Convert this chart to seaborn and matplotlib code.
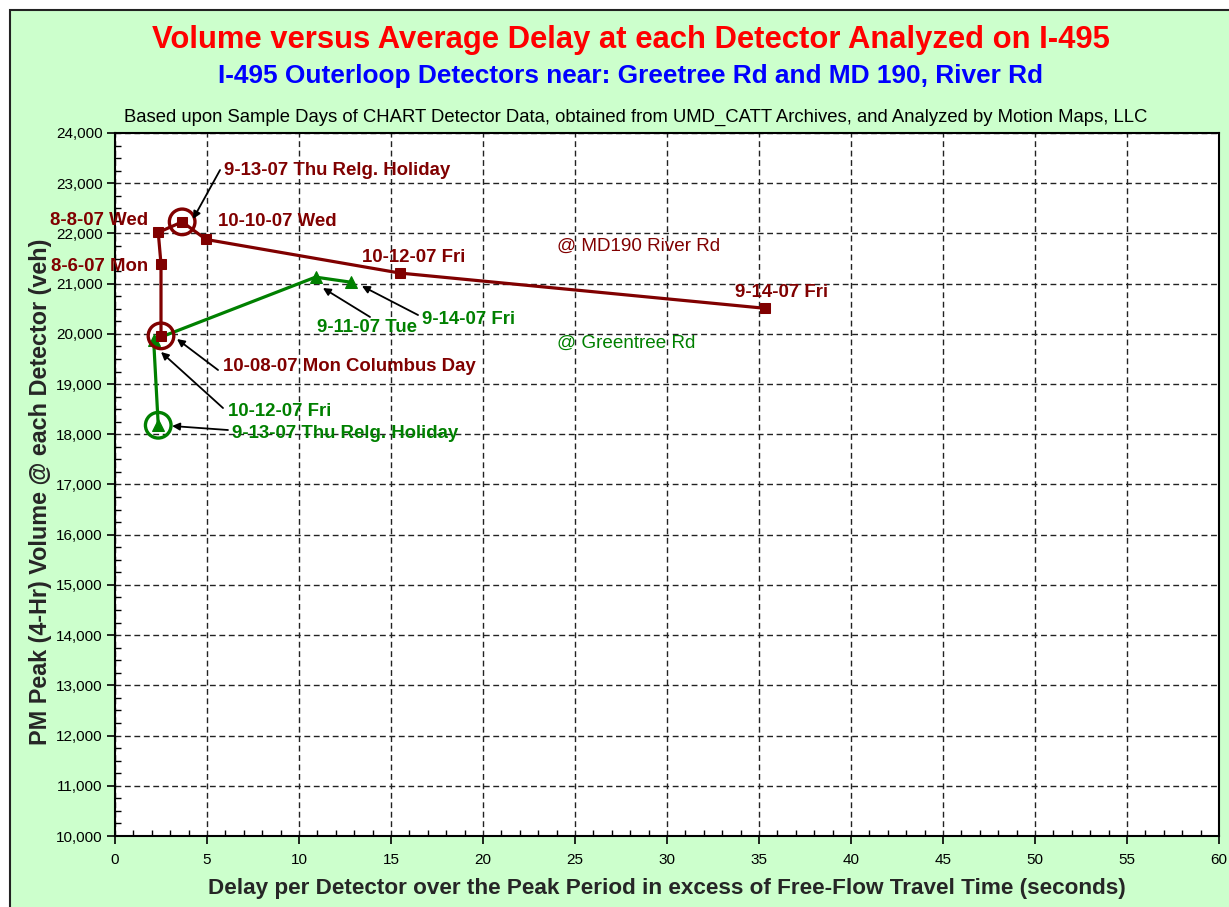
import matplotlib
matplotlib.use("Agg")
import matplotlib.pyplot as plt
import matplotlib.patches as mpatches
from matplotlib.ticker import MultipleLocator, FuncFormatter
import seaborn as sns
import pandas as pd

# Detector observations: delay (s) vs PM peak 4-hr volume
river_dates = ["10-08-07 Mon", "8-6-07 Mon", "8-8-07 Wed", "9-13-07 Thu",
               "10-10-07 Wed", "10-12-07 Fri", "9-14-07 Fri"]
river_delay = [2.5, 2.5, 2.35, 3.65, 4.95, 15.5, 35.3]
river_volume = [19960, 21390, 22020, 22230, 21880, 21210, 20510]

green_dates = ["9-13-07 Thu", "10-12-07 Fri", "9-11-07 Tue", "9-14-07 Fri"]
green_delay = [2.35, 2.1, 10.9, 12.8]
green_volume = [18180, 19880, 21130, 21030]

# holidays highlighted with an open ring
river_holiday = ["9-13-07 Thu", "10-08-07 Mon"]
green_holiday = ["9-13-07 Thu"]

RED = "#800000"
GREEN = "#008000"
BG = "#CCFFCC"

sns.set_theme(style="white")
plt.rcParams["font.family"] = ["Liberation Sans", "DejaVu Sans"]

river = pd.DataFrame({"date": river_dates, "delay": river_delay, "volume": river_volume})
green = pd.DataFrame({"date": green_dates, "delay": green_delay, "volume": green_volume})

fig = plt.figure(figsize=(12.29, 9.07), dpi=100)
fig.patch.set_facecolor("white")
fig.patches.append(mpatches.Rectangle((10 / 1229, -0.01), 1.02, 1 - 10 / 907 + 0.01,
                                      transform=fig.transFigure, facecolor=BG,
                                      edgecolor="#222222", linewidth=1.5, zorder=-10))

ax = fig.add_axes([115 / 1229, 1 - 836 / 907, (1219 - 115) / 1229, (836 - 133) / 907])
ax.set_facecolor("white")

sns.lineplot(data=river, x="delay", y="volume", sort=False, estimator=None,
             color=RED, linewidth=2.3, marker="s", markersize=7,
             markeredgecolor=RED, ax=ax, zorder=4)
sns.lineplot(data=green, x="delay", y="volume", sort=False, estimator=None,
             color=GREEN, linewidth=2.3, marker="^", markersize=9,
             markeredgecolor=GREEN, ax=ax, zorder=3)

rh = river[river["date"].isin(river_holiday)]
gh = green[green["date"].isin(green_holiday)]
sns.scatterplot(data=rh, x="delay", y="volume", s=340, facecolor="none",
                edgecolor=RED, linewidth=2.4, ax=ax, zorder=5)
sns.scatterplot(data=gh, x="delay", y="volume", s=340, facecolor="none",
                edgecolor=GREEN, linewidth=2.4, ax=ax, zorder=5)

ax.set_xlim(0, 60)
ax.set_ylim(10000, 24000)
ax.xaxis.set_major_locator(MultipleLocator(5))
ax.xaxis.set_minor_locator(MultipleLocator(1))
ax.yaxis.set_major_locator(MultipleLocator(1000))
ax.yaxis.set_minor_locator(MultipleLocator(250))
ax.yaxis.set_major_formatter(FuncFormatter(lambda v, p: f"{int(v):,}"))
ax.tick_params(axis="both", which="major", direction="out", length=6, width=1.2,
               colors="black", labelsize=11, pad=3)
ax.tick_params(axis="x", which="major", pad=6)
ax.tick_params(axis="both", which="minor", direction="in", length=4, width=1,
               colors="black")
ax.tick_params(axis="both", which="both", bottom=True, left=True)
ax.grid(True, which="major", color="#222222", linestyle=(0, (4.2, 2.6)), linewidth=1)
for s in ax.spines.values():
    s.set_color("black")
    s.set_linewidth(1.5)

ax.set_xlabel("Delay per Detector over the Peak Period in excess of Free-Flow Travel Time (seconds)",
              fontsize=16.2, fontweight="bold", labelpad=8)
ax.set_ylabel("PM Peak (4-Hr) Volume @ each Detector (veh)", fontsize=16.8,
              fontweight="bold", labelpad=8)
ax.yaxis.set_label_coords(-0.0575, 0.49)

fig.text(0.513, 1 - 40 / 907, "Volume versus Average Delay at each Detector Analyzed on I-495",
         color="#FF0000", fontsize=22.3, fontweight="bold", ha="center", va="center")
fig.text(0.513, 1 - 76 / 907, "I-495 Outerloop Detectors near: Greetree Rd and MD 190, River Rd",
         color="#0000FF", fontsize=18.9, fontweight="bold", ha="center", va="center")
fig.text(0.5175, 1 - 117 / 907,
         "Based upon Sample Days of CHART Detector Data, obtained from UMD_CATT Archives, and Analyzed by Motion Maps, LLC",
         color="black", fontsize=13.3, ha="center", va="center")

lab = dict(fontsize=13.4, fontweight="bold", clip_on=False, zorder=6)
arrow = dict(arrowstyle="-|>", color="black", lw=1.3, mutation_scale=11,
             shrinkA=0, shrinkB=0)


def callout(text, xy, tail, pos, color):
    ax.annotate("", xy=xy, xytext=tail, arrowprops=arrow, zorder=6)
    ax.text(pos[0], pos[1], text, color=color, ha="left", va="center", **lab)


# labels for the River Rd detector
ax.text(1.79, 22267, "8-8-07 Wed", color=RED, ha="right", va="center", **lab)
ax.text(1.79, 21351, "8-6-07 Mon", color=RED, ha="right", va="center", **lab)
ax.text(5.60, 22228, "10-10-07 Wed", color=RED, ha="left", va="center", **lab)
ax.text(13.42, 21530, "10-12-07 Fri", color=RED, ha="left", va="center", **lab)
ax.text(33.7, 20833, "9-14-07 Fri", color=RED, ha="left", va="center", **lab)
ax.text(24.0, 21750, "@ MD190 River Rd", color=RED, fontsize=13.6, ha="left", va="center")
ax.text(24.0, 19818, "@ Greentree Rd", color=GREEN, fontsize=13.6, ha="left", va="center")

callout("9-13-07 Thu Relg. Holiday", (4.24, 22287), (5.71, 23263), (5.92, 23263), RED)
callout("10-08-07 Mon Columbus Day", (3.37, 19897), (5.60, 19280), (5.87, 19340), RED)

# labels for the Greentree Rd detector
callout("10-12-07 Fri", (2.50, 19639), (5.87, 18523), (6.14, 18444), GREEN)
callout("9-13-07 Thu Relg. Holiday", (3.10, 18165), (6.14, 18085), (6.36, 18006), GREEN)
callout("9-11-07 Tue", (11.30, 20913), (13.86, 20336), (10.98, 20117), GREEN)
callout("9-14-07 Fri", (13.42, 20953), (16.47, 20375), (16.68, 20276), GREEN)

fig.savefig("out.png", dpi=100, facecolor=fig.get_facecolor())
